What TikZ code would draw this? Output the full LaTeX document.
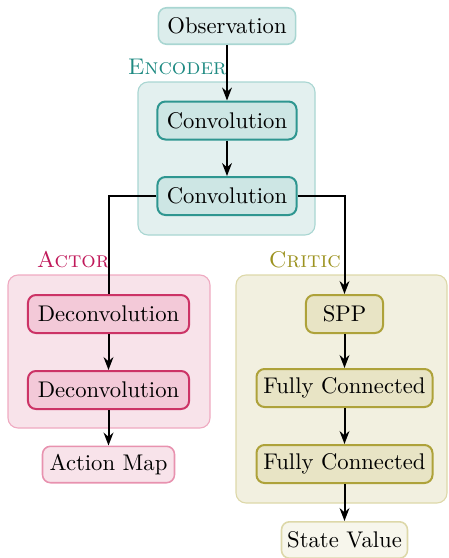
\documentclass[tikz,border=0pt]{standalone}
\usepackage{xcolor}
\usepackage{tikz}
\usetikzlibrary{positioning, arrows.meta}

\definecolor{encfill}{HTML}{E3F0EF}
\definecolor{encline}{HTML}{A9D6D2}
\definecolor{encnode}{HTML}{CDE6E4}
\definecolor{encdark}{HTML}{2E9690}
\definecolor{enctext}{HTML}{1E8A82}
\definecolor{actfill}{HTML}{F8E3EA}
\definecolor{actline}{HTML}{EFAAC1}
\definecolor{actnode}{HTML}{F3C9D8}
\definecolor{actdark}{HTML}{CC3366}
\definecolor{acttext}{HTML}{C0195A}
\definecolor{crifill}{HTML}{F2F0E0}
\definecolor{criline}{HTML}{DDD8A9}
\definecolor{crinode}{HTML}{E8E4C5}
\definecolor{cridark}{HTML}{AEA23A}
\definecolor{critext}{HTML}{9C921F}

\begin{document}
\begin{tikzpicture}[> = {Stealth[length=5.8pt, width=4.4pt]}, x=0.45pt, y=-0.45pt, thick,
	layer/.style={draw, rounded corners=3.6pt, line width=0.9pt, inner sep=0pt,
		minimum height=17.1pt, font=\fontsize{10.2}{12}\selectfont},
	io/.style={layer, line width=0.7pt, minimum height=16.4pt},
	group/.style={rounded corners=4.5pt, line width=0.5pt},
	grouplabel/.style={anchor=base west, inner sep=0pt, font=\fontsize{10.2}{12}\selectfont\scshape},
	link/.style={line width=0.9pt}]
			\useasboundingbox (0,0) rectangle (448,558);
			% caixas dos grupos
			\draw [group, draw=encline, fill=encfill] (138,82) rectangle (315,235);
			\draw [group, draw=actline, fill=actfill] (8,275) rectangle (210,428);
			\draw [group, draw=criline, fill=crifill] (236,275) rectangle (447,503);
			
			% nomes dos grupos
			\node [grouplabel, text=enctext] (encname) at (127,74) {Encoder};
			\node [grouplabel, text=acttext] (actname) at (36,267) {Actor};
			\node [grouplabel, text=critext] (criname) at (268,267) {Critic};
			
			% encoder
			\node [io, draw=encline, fill=encfill!70!encnode, minimum width=61.7pt] (obs) at (227,26) {Observation};
			\node [layer, draw=encdark, fill=encnode, minimum width=62.6pt] (conva) at (227,120.5) {Convolution};
			\node [layer, draw=encdark, fill=encnode, minimum width=62.6pt] (convb) at (227,196) {Convolution};
			
			% actor
			\node [layer, draw=actdark, fill=actnode, minimum width=72.5pt] (deconva) at (108.5,314) {Deconvolution};
			\node [layer, draw=actdark, fill=actnode, minimum width=72.5pt] (deconvb) at (108.5,390) {Deconvolution};
			\node [io, draw=actline!80!actdark, fill=actfill, minimum width=59.4pt] (actmap) at (108.5,464.5) {Action Map};
			
			% critic
			\node [layer, draw=cridark, fill=crinode, minimum width=34.7pt] (spp) at (344.5,314) {SPP};
			\node [layer, draw=cridark, fill=crinode, minimum width=79.2pt] (fca) at (344.5,388) {Fully Connected};
			\node [layer, draw=cridark, fill=crinode, minimum width=79.2pt] (fcb) at (344.5,464) {Fully Connected};
			\node [io, draw=criline, fill=crifill!60!white, minimum width=56.7pt] (stateval) at (344.5,540) {State Value};
			
			% ligações
			\draw [->, link] (obs) -- (conva);
			\draw [->, link] (conva) -- (convb);
			\draw [link] (convb.west) -| (deconva.north);
			\draw [->, link] (convb.east) -| (spp.north);
			\draw [->, link] (deconva) -- (deconvb);
			\draw [->, link] (deconvb) -- (actmap);
			\draw [->, link] (spp) -- (fca);
			\draw [->, link] (fca) -- (fcb);
			\draw [->, link] (fcb) -- (stateval);
		\end{tikzpicture}
\end{document}
